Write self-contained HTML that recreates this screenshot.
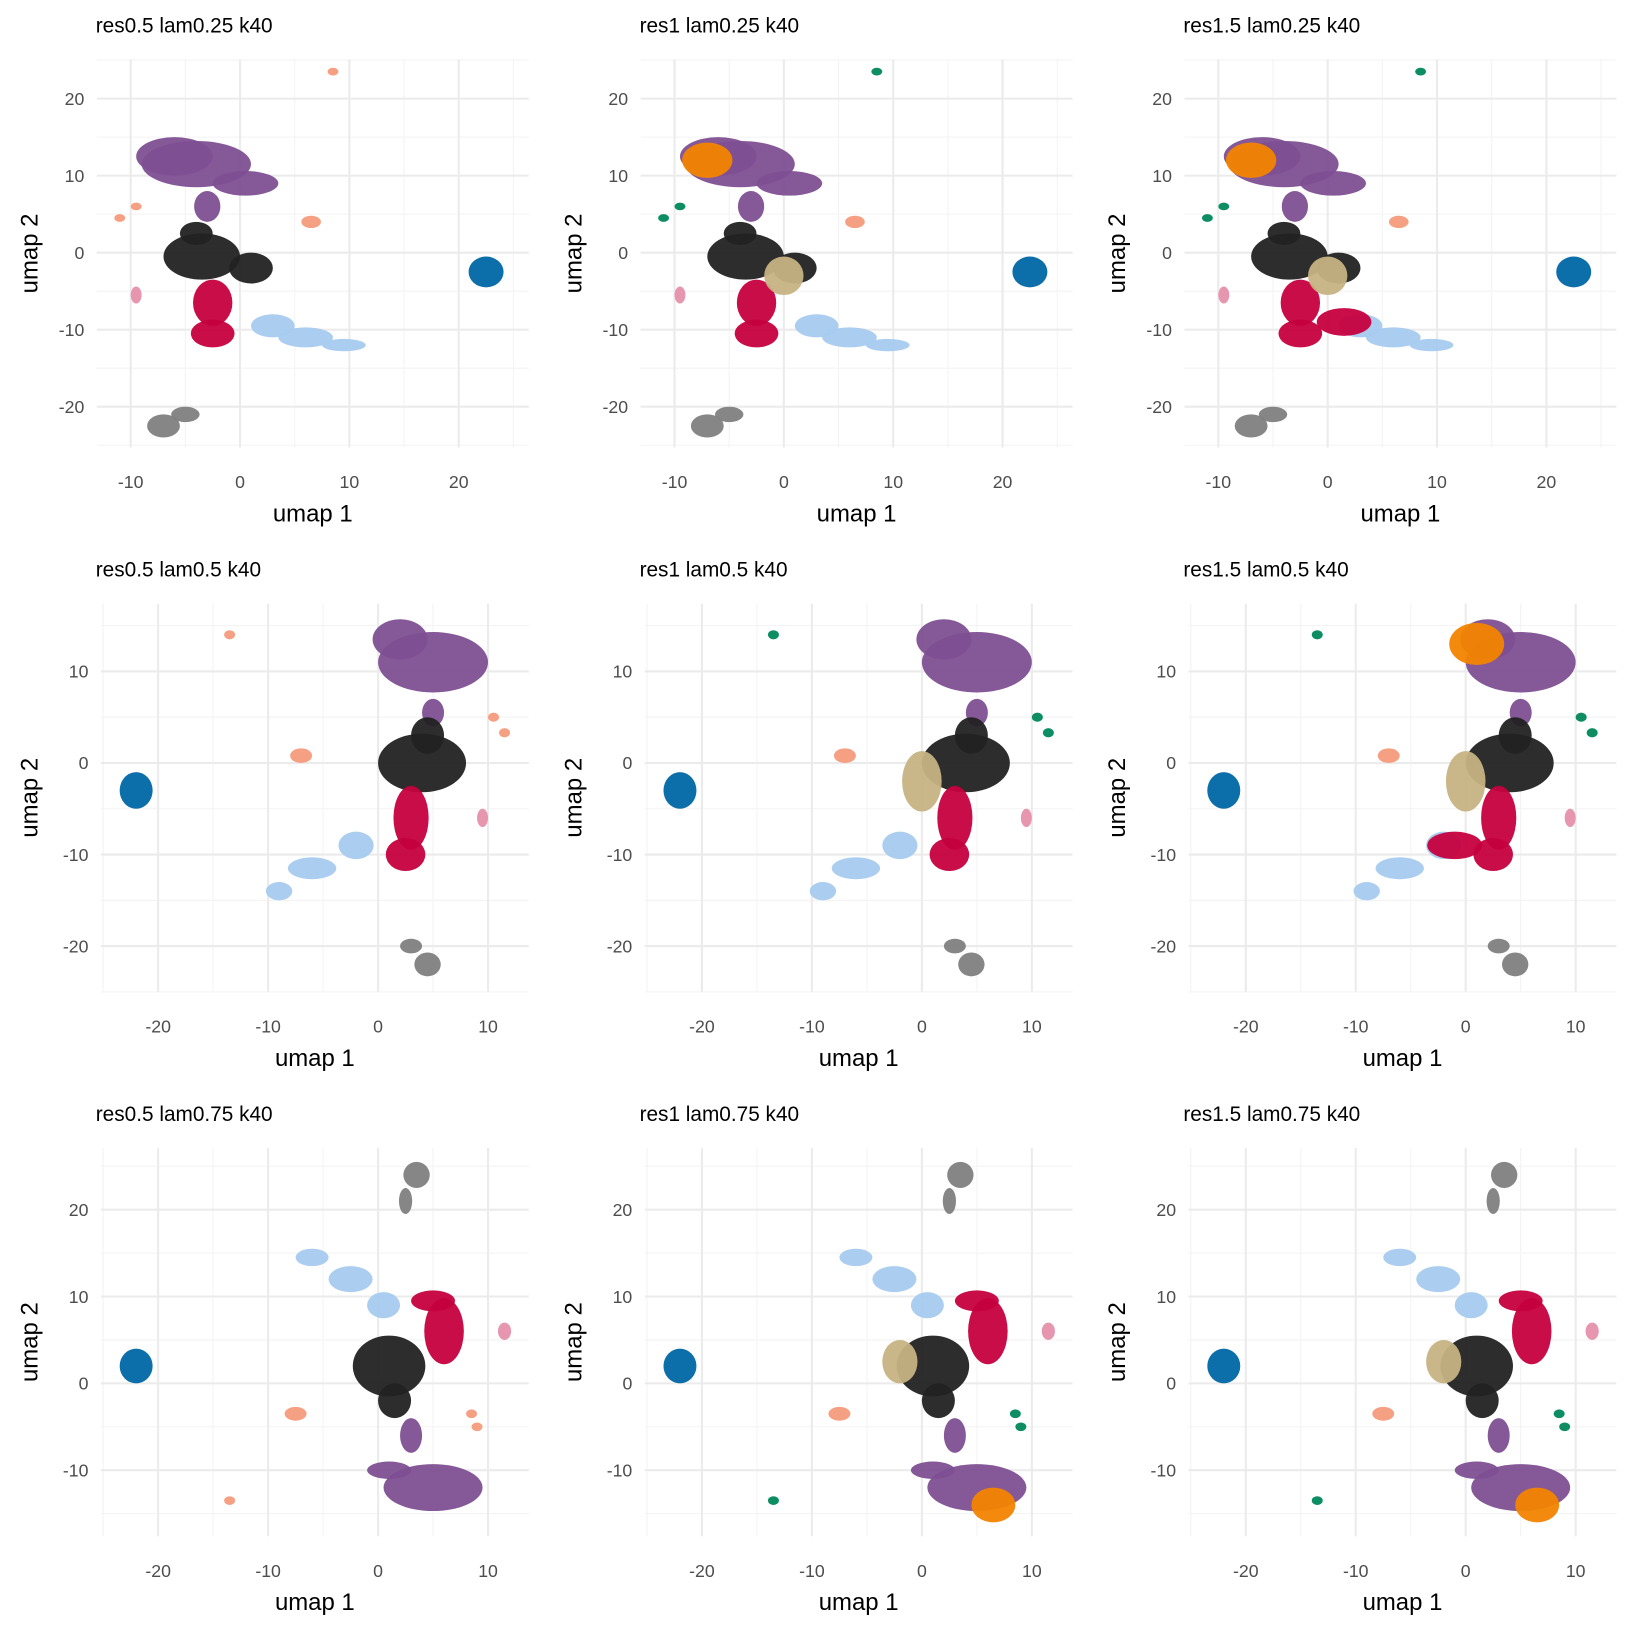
<!DOCTYPE html>
<html><head><meta charset="utf-8"><style>
body{margin:0;background:#fff;}
svg{display:block;font-family:"Liberation Sans",Arial,sans-serif;}
</style></head><body>
<svg id="c" width="1632" height="1632" viewBox="0 0 1632 1632" xmlns="http://www.w3.org/2000/svg"><g id="root" transform="scale(1.0408)"></g></svg>
<script>
const titles = ["res0.5 lam0.25 k40","res1 lam0.25 k40","res1.5 lam0.25 k40","res0.5 lam0.5 k40","res1 lam0.5 k40","res1.5 lam0.5 k40","res0.5 lam0.75 k40","res1 lam0.75 k40","res1.5 lam0.75 k40"];
const colors = {purple:"#7e4f92",black:"#222222",crimson:"#c5003e",lightblue:"#a6cbef",blue:"#0067a5",grey:"#7f7f7f",salmon:"#f59b7c",pink:"#e690ac",green:"#00875a",orange:"#f38400",tan:"#c6b283"};
const xTicksRow = [[-10,0,10,20],[-20,-10,0,10],[-20,-10,0,10]];
const yTicksRow = [[20,10,0,-10,-20],[10,0,-10,-20],[20,10,0,-10]];
const xLimRow = [[-13.1,26.4],[-25.2,13.7],[-25.2,13.7]];
const yLimRow = [[-25.3,25.1],[-25,17.4],[-17.6,27.1]];
// clusters: [cluster, cx, cy, rx, ry]
const row1Base = [
 ["purple",-4,11.5,5,3],["purple",-6,12.5,3.5,2.5],["purple",0.5,9,3,1.6],["purple",-3,6,1.2,2],
 ["black",-3.5,-0.5,3.5,3],["black",-4,2.5,1.5,1.5],["black",1,-2,2,2],
 ["crimson",-2.5,-6.5,1.8,3],["crimson",-2.5,-10.5,2,1.8],
 ["lightblue",3,-9.5,2,1.5],["lightblue",6,-11,2.5,1.3],["lightblue",9.5,-12,2,0.8],
 ["blue",22.5,-2.5,1.6,2],
 ["grey",-7,-22.5,1.5,1.5],["grey",-5,-21,1.3,1],
 ["salmon",6.5,4,0.9,0.8],["pink",-9.5,-5.5,0.5,1.1]
];
const row1Small = [[-9.5,6],[-11,4.5],[8.5,23.5]];
const row2Base = [
 ["purple",5,11,5,3.3],["purple",2,13.5,2.5,2.2],["purple",5,5.5,1,1.5],
 ["black",4,0,4,3.2],["black",4.5,3,1.5,2],
 ["crimson",3,-6,1.6,3.5],["crimson",2.5,-10,1.8,1.8],
 ["lightblue",-9,-14,1.2,1],["lightblue",-6,-11.5,2.2,1.2],["lightblue",-2,-9,1.6,1.5],
 ["blue",-22,-3,1.5,2],
 ["grey",4.5,-22,1.2,1.3],["grey",3,-20,1,0.8],
 ["salmon",-7,0.8,1,0.8],["pink",9.5,-6,0.5,1]
];
const row2Small = [[10.5,5],[11.5,3.3],[-13.5,14]];
const row3Base = [
 ["grey",3.5,24,1.2,1.5],["grey",2.5,21,0.6,1.5],
 ["lightblue",-6,14.5,1.5,1],["lightblue",-2.5,12,2,1.5],["lightblue",0.5,9,1.5,1.5],
 ["crimson",6,6,1.8,3.8],["crimson",5,9.5,2,1.2],
 ["black",1,2,3.3,3.5],["black",1.5,-2,1.5,2],
 ["purple",5,-12,4.5,2.7],["purple",1,-10,2,1],["purple",3,-6,1,2],
 ["blue",-22,2,1.5,2],
 ["salmon",-7.5,-3.5,1,0.8],["pink",11.5,6,0.6,1]
];
const row3Small = [[9,-5],[8.5,-3.5],[-13.5,-13.5]];

function panelClusters(r,c){
 let base, small;
 if(r===0){base=row1Base.map(a=>a.slice());small=row1Small;}
 else if(r===1){base=row2Base.map(a=>a.slice());small=row2Small;}
 else {base=row3Base.map(a=>a.slice());small=row3Small;}
 const smallCol = c===0 ? "salmon" : "green";
 small.forEach(p=>base.push([smallCol,p[0],p[1],0.5,0.5]));
 if(c>0){
  if(r===0){base.push(["orange",-7,12,2.3,2.3]);base.push(["tan",0,-3,1.8,2.5]);}
  if(r===1){base.push(["tan",0,-2,1.8,3.3]); if(c===2) base.push(["orange",1,13,2.5,2.3]);}
  if(r===2){base.push(["tan",-2,2.5,1.6,2.5]);base.push(["orange",6.5,-14,2,2]);}
 }
 if(c===2 && r===0){base.push(["crimson",1.5,-9,2.5,1.8]);}
 if(c===2 && r===1){base.push(["crimson",-1,-9,2.5,1.5]);}
 return base;
}
const NS="http://www.w3.org/2000/svg";
const root=document.getElementById('root');
function mk(t,attrs,parent){const e=document.createElementNS(NS,t);for(const k in attrs)e.setAttribute(k,attrs[k]);(parent||root).appendChild(e);return e;}
for(let r=0;r<3;r++){for(let c=0;c<3;c++){
 const ox=c*522.5, oy=r*523;
 const L=93+ox+(r>0?4:0), R=508+ox, T=57+oy, B=430+oy;
 const xl=xLimRow[r], yl=yLimRow[r];
 const sx=v=>L+(v-xl[0])/(xl[1]-xl[0])*(R-L);
 const sy=v=>B-(v-yl[0])/(yl[1]-yl[0])*(B-T);
 const g=mk('g',{});
 
 
 const xt=xTicksRow[r], yt=yTicksRow[r];
 for(let v=Math.ceil(xl[0]/5)*5; v<=xl[1]; v+=5){ if(v%10!==0) mk('line',{x1:sx(v),x2:sx(v),y1:T,y2:B,stroke:'#f3f3f3','stroke-width':1},g); }
 for(let v=Math.ceil(yl[0]/5)*5; v<=yl[1]; v+=5){ if(v%10!==0) mk('line',{x1:L,x2:R,y1:sy(v),y2:sy(v),stroke:'#f3f3f3','stroke-width':1},g); }
 xt.forEach(v=>{mk('line',{x1:sx(v),x2:sx(v),y1:T,y2:B,stroke:'#ebebeb','stroke-width':2},g);
  const t=mk('text',{x:sx(v),y:B+39,'text-anchor':'middle','font-size':17,fill:'#4d4d4d'},g);t.textContent=v;
  });
 yt.forEach(v=>{mk('line',{x1:L,x2:R,y1:sy(v),y2:sy(v),stroke:'#ebebeb','stroke-width':2},g);
  const t=mk('text',{x:L-12,y:sy(v)+6,'text-anchor':'end','font-size':17,fill:'#4d4d4d'},g);t.textContent=v;
  });
 panelClusters(r,c).forEach(cl=>{
  const e=mk('ellipse',{cx:sx(cl[1]),cy:sy(cl[2]),rx:Math.abs(sx(cl[3])-sx(0)),ry:Math.abs(sy(cl[4])-sy(0)),fill:colors[cl[0]],'fill-opacity':0.95},g);
  
  
 });
 const tt=mk('text',{x:92+ox,y:31+oy,'font-size':20,fill:'#000'},g);tt.textContent=titles[r*3+c];
 
 const xa=mk('text',{x:(L+R)/2,y:501+oy,'text-anchor':'middle','font-size':23,fill:'#000'},g);xa.textContent='umap 1';
 
 const ya=mk('text',{x:0,y:0,'text-anchor':'middle','font-size':23,fill:'#000',transform:`translate(${36+ox},${(T+B)/2}) rotate(-90)`},g);ya.textContent='umap 2';
 
}}
</script>
</body></html>
